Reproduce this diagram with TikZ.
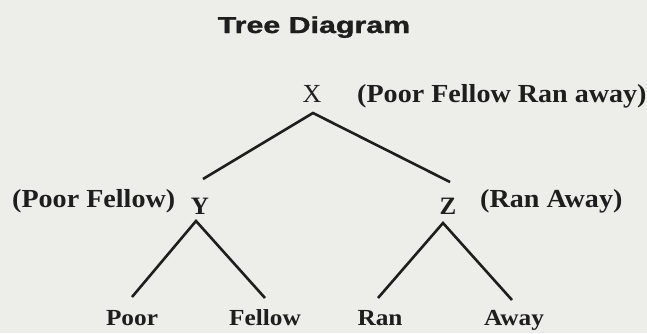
\documentclass[tikz,border=0pt]{standalone}
\usepackage{fontspec}
\setmainfont{Liberation Serif}
\newfontfamily\titlefont[FakeBold=1.2]{Liberation Sans}
\definecolor{paper}{RGB}{237,237,233}
\definecolor{ink}{RGB}{30,30,30}
\begin{document}
\begin{tikzpicture}[x=1pt,y=-1pt,
  every node/.style={inner sep=0pt, text=ink},
  titletxt/.style={font=\titlefont\bfseries\fontsize{23}{27}\selectfont},
  vartxt/.style={font=\fontsize{26}{30}\selectfont},
  ltrtxt/.style={font=\bfseries\fontsize{25}{29}\selectfont},
  labtxt/.style={font=\bfseries\fontsize{26}{30}\selectfont},
  leaftxt/.style={font=\bfseries\fontsize{23}{27}\selectfont},
  branch/.style={draw=ink, line width=2.6pt, line join=miter}]
\fill[paper] (0,0) rectangle (647,333);
\useasboundingbox (0,0) rectangle (647,333);

\node[titletxt, anchor=base] (title) at (314,33) {\scalebox{1.32}[1]{Tree Diagram}};

\node[vartxt, anchor=base] (X) at (312,102) {X};
\node[labtxt, anchor=base west] (Xlab) at (357,102) {\scalebox{1.08}[1]{(Poor Fellow Ran away)}};

\node[ltrtxt, anchor=base] (Y) at (200,214) {Y};
\node[ltrtxt, anchor=base] (Z) at (448,214) {Z};
\node[labtxt, anchor=base west] (Ylab) at (12,207) {\scalebox{1.08}[1]{(Poor Fellow)}};
\node[labtxt, anchor=base west] (Zlab) at (480,207) {\scalebox{1.08}[1]{(Ran Away)}};

\node[leaftxt, anchor=base] (poor) at (132,325) {\scalebox{1.1}[1]{Poor}};
\node[leaftxt, anchor=base] (fellow) at (265,325) {\scalebox{1.1}[1]{Fellow}};
\node[leaftxt, anchor=base] (ran) at (380,325) {\scalebox{1.1}[1]{Ran}};
\node[leaftxt, anchor=base] (away) at (514,325) {\scalebox{1.1}[1]{Away}};

\coordinate (xa) at (313,113);
\coordinate (xl) at (203,179);
\coordinate (xr) at (450,182);
\coordinate (ya) at (196,221);
\coordinate (yl) at (132,297);
\coordinate (yr) at (265,298);
\coordinate (za) at (443,223);
\coordinate (zl) at (378,298);
\coordinate (zr) at (512,300);

\draw[branch] (xl) -- (xa) -- (xr);
\draw[branch] (yl) -- (ya) -- (yr);
\draw[branch] (zl) -- (za) -- (zr);
\end{tikzpicture}
\end{document}
